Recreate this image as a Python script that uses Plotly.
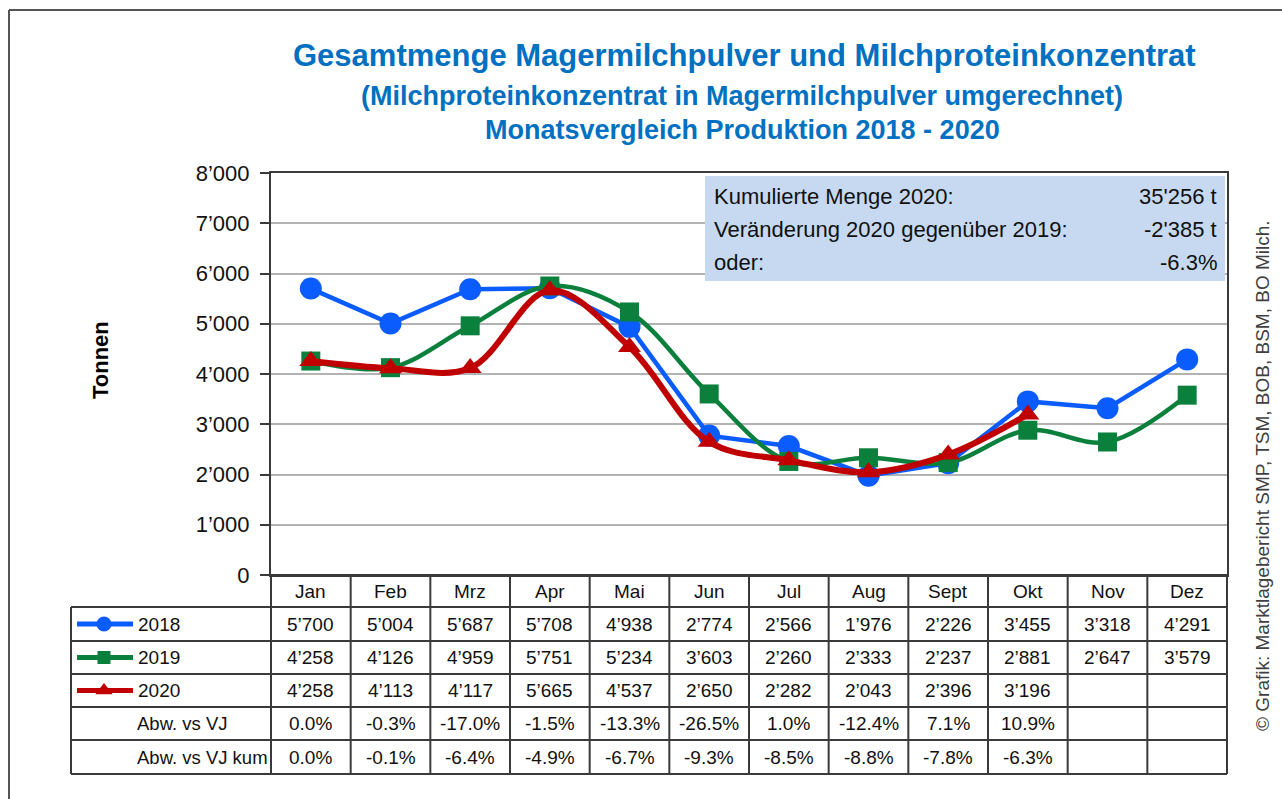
import plotly.graph_objects as go

# ---------------- data ----------------
months = ["Jan", "Feb", "Mrz", "Apr", "Mai", "Jun", "Jul", "Aug", "Sept", "Okt", "Nov", "Dez"]
v2018 = [5700, 5004, 5687, 5708, 4938, 2774, 2566, 1976, 2226, 3455, 3318, 4291]
v2019 = [4258, 4126, 4959, 5751, 5234, 3603, 2260, 2333, 2237, 2881, 2647, 3579]
v2020 = [4258, 4113, 4117, 5665, 4537, 2650, 2282, 2043, 2396, 3196, None, None]
abw_vj = [0.0, -0.3, -17.0, -1.5, -13.3, -26.5, 1.0, -12.4, 7.1, 10.9, None, None]
abw_vj_kum = [0.0, -0.1, -6.4, -4.9, -6.7, -9.3, -8.5, -8.8, -7.8, -6.3, None, None]
series_names = ["2018", "2019", "2020"]
extra_row_labels = ["Abw. vs VJ", "Abw. vs VJ kum"]
y_tickvals = [0, 1000, 2000, 3000, 4000, 5000, 6000, 7000, 8000]
y_ticktext = ["0", "1’000", "2’000", "3’000", "4’000", "5’000", "6’000", "7’000", "8’000"]
info_labels = ["Kumulierte Menge 2020:", "Veränderung 2020 gegenüber 2019:", "oder:"]
info_values = ["35'256 t", "-2'385 t", "-6.3%"]
title_lines = ["Gesamtmenge Magermilchpulver und Milchproteinkonzentrat",
               "(Milchproteinkonzentrat in Magermilchpulver umgerechnet)",
               "Monatsvergleich Produktion 2018 - 2020"]
y_title = "Tonnen"
source_text = "© Grafik: Marktlagebericht SMP, TSM, BOB, BSM, BO Milch."

# ---------------- styles / layout constants ----------------
W, H = 1282, 799
PX0, PX1 = 271, 1227          # plot area x (pixels)
PY_TOP, PY_BOT = 173, 575     # plot area y (pixels)
ROW_EDGES = [575, 607, 641, 674, 707, 740, 774]
LABEL_LEFT = 71
FONT = "Liberation Sans, Arial, sans-serif"
C_BLUE, C_GREEN, C_RED = "#0A5CFF", "#0A803C", "#C00000"
C_TITLE = "#0070C0"
LINE_C = "#3A3A3A"

styles = [
    dict(color=C_BLUE, symbol="circle", size=22, width=4.5, shape="linear", lsize=15),
    dict(color=C_GREEN, symbol="square", size=19, width=4.5, shape="spline", lsize=13),
    dict(color=C_RED, symbol="triangle-up", size=20, width=6, shape="spline", lsize=15),
]
series = [v2018, v2019, v2020]

def fmt_int(v):
    return "" if v is None else f"{v:,}".replace(",", "’")

def fmt_pct(v):
    return "" if v is None else f"{v:.1f}%"

fig = go.Figure()

for name, vals, st in zip(series_names, series, styles):
    fig.add_trace(go.Scatter(
        x=months, y=vals, name=name, mode="lines+markers",
        line=dict(color=st["color"], width=st["width"], shape=st["shape"], smoothing=1.0),
        marker=dict(symbol=st["symbol"], size=st["size"], color=st["color"]),
        connectgaps=False, showlegend=False, hoverinfo="x+y+name",
    ))

# ---------- overlay pixel axes for table / annotations ----------
col_w = (PX1 - PX0) / 12
col_centers = [PX0 + (i + 0.5) * col_w for i in range(12)]
row_centers = [(ROW_EDGES[i] + ROW_EDGES[i + 1]) / 2 for i in range(len(ROW_EDGES) - 1)]

# legend samples inside the table
for i, st in enumerate(styles):
    yc = row_centers[i + 1]
    fig.add_trace(go.Scatter(
        x=[77, 133], y=[yc, yc], mode="lines", xaxis="x2", yaxis="y2",
        line=dict(color=st["color"], width=5), showlegend=False, hoverinfo="skip"))
    fig.add_trace(go.Scatter(
        x=[104], y=[yc], mode="markers", xaxis="x2", yaxis="y2",
        marker=dict(symbol=st["symbol"], size=st["lsize"], color=st["color"]),
        showlegend=False, hoverinfo="skip"))

shapes = []
def line(x0, y0, x1, y1, color=LINE_C, width=2):
    shapes.append(dict(type="line", xref="x2", yref="y2", x0=x0, y0=y0, x1=x1, y1=y1,
                       line=dict(color=color, width=width), layer="above"))

# outer frame
line(9, 10, W + 5, 10, "#555555", 2)
line(9, 10, 9, H + 5, "#555555", 2)

# table grid
for j, ye in enumerate(ROW_EDGES):
    x_start = PX0 if j == 0 else LABEL_LEFT
    line(x_start, ye, PX1, ye)
line(LABEL_LEFT, ROW_EDGES[1], LABEL_LEFT, ROW_EDGES[-1])
for i in range(13):
    xe = PX0 + i * col_w
    line(xe, ROW_EDGES[0], xe, ROW_EDGES[-1])

# info box
shapes.append(dict(type="rect", xref="x2", yref="y2", x0=705, y0=176, x1=1225, y1=281,
                   fillcolor="#C6D9F1", line=dict(width=0), layer="below"))

annotations = []
def text(x, y, s, size=20, color="#111111", xanchor="center", bold=False, angle=0, fam=FONT):
    annotations.append(dict(xref="x2", yref="y2", x=x, y=y, text=(f"<b>{s}</b>" if bold else s),
                            showarrow=False, xanchor=xanchor, yanchor="middle", textangle=angle,
                            font=dict(family=fam, size=size, color=color)))

# header
for m, xc in zip(months, col_centers):
    text(xc, row_centers[0], m, size=19)
# series rows
for i, (name, vals) in enumerate(zip(series_names, series)):
    yc = row_centers[i + 1]
    text(136, yc, name, size=19, xanchor="left")
    for v, xc in zip(vals, col_centers):
        text(xc, yc, fmt_int(v), size=19)
# percentage rows
for k, (lab, vals) in enumerate(zip(extra_row_labels, [abw_vj, abw_vj_kum])):
    yc = row_centers[4 + k]
    text(135, yc, lab, size=18.5, xanchor="left")
    for v, xc in zip(vals, col_centers):
        text(xc, yc, fmt_pct(v), size=19)

# titles
text(744, 55, title_lines[0], size=31, color=C_TITLE, bold=True)
text(742, 96, title_lines[1], size=27, color=C_TITLE, bold=True)
text(742, 130, title_lines[2], size=27, color=C_TITLE, bold=True)

# y-axis title
text(100, 360, y_title, size=22, color="#000000", bold=True, angle=-90)

# info box text
for lab, val, yy in zip(info_labels, info_values, [196, 229, 262]):
    text(712, yy, lab, size=22, xanchor="left")
    text(1219, yy, val, size=22, xanchor="right")

# source text
text(1262, 476, source_text, size=19, color="#404040", angle=-90)

fig.update_layout(
    width=W, height=H, autosize=False, margin=dict(l=0, r=0, t=0, b=0, pad=0, autoexpand=False),
    paper_bgcolor="white", plot_bgcolor="rgba(0,0,0,0)",
    font=dict(family=FONT, size=20, color="#111111"),
    xaxis=dict(domain=[PX0 / W, PX1 / W], range=[-0.5, 11.5], type="category",
               showticklabels=False, ticks="", showgrid=False, zeroline=False, automargin=False,
               showline=True, linecolor=LINE_C, linewidth=2, mirror=True, fixedrange=True),
    yaxis=dict(domain=[1 - PY_BOT / H, 1 - PY_TOP / H], range=[0, 8000], automargin=False,
               tickvals=y_tickvals, ticktext=y_ticktext, ticks="outside", ticklen=9,
               tickwidth=2, tickcolor=LINE_C, tickfont=dict(family=FONT, size=22, color="#111111"),
               showgrid=True, gridcolor="#B3B3B3", gridwidth=2, zeroline=False,
               showline=True, linecolor=LINE_C, linewidth=2, mirror=True, fixedrange=True,
               ticklabelstandoff=6),
    xaxis2=dict(domain=[0, 1], range=[0, W], visible=False, anchor="y2", fixedrange=True,
                automargin=False),
    yaxis2=dict(domain=[0, 1], range=[H, 0], visible=False, anchor="x2", fixedrange=True,
                automargin=False),
    shapes=shapes, annotations=annotations,
)

fig.write_html("out.html",
               config={"displayModeBar": False, "responsive": False},
               post_script="document.body.style.margin='0px';document.body.style.overflow='hidden';")
